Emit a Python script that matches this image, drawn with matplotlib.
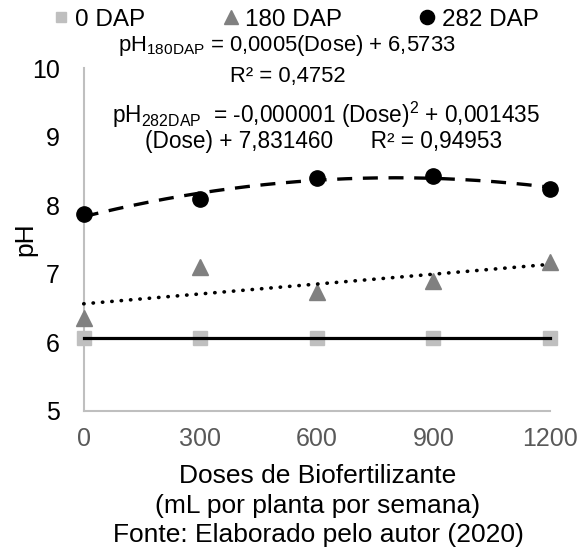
import numpy as np
import matplotlib
matplotlib.use("Agg")
import matplotlib.pyplot as plt
from matplotlib.lines import Line2D

plt.rcParams['font.family'] = ['Liberation Sans', 'DejaVu Sans']
plt.rcParams['mathtext.fontset'] = 'custom'
plt.rcParams['mathtext.rm'] = 'Liberation Sans'
plt.rcParams['mathtext.it'] = 'Liberation Sans'

doses = [0, 300, 600, 900, 1200]
ph_0dap = [6.06, 6.06, 6.06, 6.06, 6.06]
ph_180dap = [6.35, 7.10, 6.74, 6.90, 7.17]
ph_282dap = [7.87, 8.10, 8.40, 8.43, 8.24]

series_labels = ['0 DAP', '180 DAP', '282 DAP']
y_ticks = [5, 6, 7, 8, 9, 10]

eq_180 = r'pH$_{\mathregular{180DAP}}$ = 0,0005(Dose) + 6,5733'
r2_180 = 'R² = 0,4752'
eq_282_a = r'pH$_{\mathregular{282DAP}}$  = -0,000001 (Dose)$^{\mathregular{2}}$ + 0,001435'
eq_282_b = '(Dose) + 7,831460      R² = 0,94953'
xlabel_lines = ['Doses de Biofertilizante',
                '(mL por planta por semana)',
                'Fonte: Elaborado pelo autor (2020)']

fig = plt.figure(figsize=(5.83, 5.53), dpi=100)
ax = fig.add_axes([0.1436, 0.2568, 0.7998, 0.6197])

x = np.array(doses, dtype=float)
xs = np.linspace(0, 1200, 200)

# trend lines fitted from the measured points
fit0 = np.polyfit(x, ph_0dap, 1)
fit180 = np.polyfit(x, ph_180dap, 1)
fit282 = np.polyfit(x, ph_282dap, 2)

ax.plot(x, ph_0dap, 's', color='#BFBFBF', ms=10.5, clip_on=False, zorder=3)
ax.plot(x, ph_180dap, '^', color='#808080', ms=11, clip_on=False, zorder=3)
ax.plot(x, ph_282dap, 'o', color='black', ms=11, clip_on=False, zorder=3)

ax.plot(xs, np.polyval(fit0, xs), color='black', lw=2.3, zorder=4, clip_on=False)
ax.plot(xs, np.polyval(fit180, xs), color='black', lw=2.6,
        linestyle=(0, (0.1, 2.5)), dash_capstyle='round', zorder=4, clip_on=False)
ax.plot(xs, np.polyval(fit282, xs), color='black', lw=2.4,
        linestyle=(0, (4.5, 3.2)), zorder=4, clip_on=False)

ax.set_xlim(0, 1200)
ax.set_ylim(5, 10)
ax.set_xticks(doses)
ax.set_yticks(y_ticks)
ax.tick_params(length=0, labelsize=18)
ax.tick_params(axis='x', labelcolor='#595959', pad=11.5)
ax.tick_params(axis='y', pad=17)
for s in ['top', 'right']:
    ax.spines[s].set_visible(False)
for s in ['left', 'bottom']:
    ax.spines[s].set_color('#BFBFBF')
    ax.spines[s].set_linewidth(1.5)

ax.set_ylabel('pH', fontsize=19)
ax.yaxis.set_label_coords(-0.100, 0.5)

# x axis title, one text per line
for txt, yb in zip(xlabel_lines, [0.1266, 0.0724, 0.0204]):
    fig.text(0.5455, yb, txt, fontsize=19, ha='center', va='baseline')

handles = [
    Line2D([], [], marker='s', color='#BFBFBF', ls='none', ms=7.8),
    Line2D([], [], marker='^', color='#808080', ls='none', ms=9.8),
    Line2D([], [], marker='o', color='black', ls='none', ms=10.2),
]
fig.legend(handles, series_labels, loc='center', bbox_to_anchor=(0.508, 0.964), ncol=3,
           frameon=False, fontsize=17.5, handlelength=0.6, handletextpad=0.3,
           columnspacing=3.2, borderaxespad=0, borderpad=0)

fig.text(0.4914, 0.9085, eq_180, fontsize=15.8, ha='center', va='baseline')
fig.text(0.493, 0.8523, r2_180, fontsize=15.8, ha='center', va='baseline')
fig.text(0.5583, 0.777, eq_282_a, fontsize=16.3, ha='center', va='baseline')
fig.text(0.5547, 0.7318, eq_282_b, fontsize=16.3, ha='center', va='baseline')

fig.savefig('out.png', dpi=100)
